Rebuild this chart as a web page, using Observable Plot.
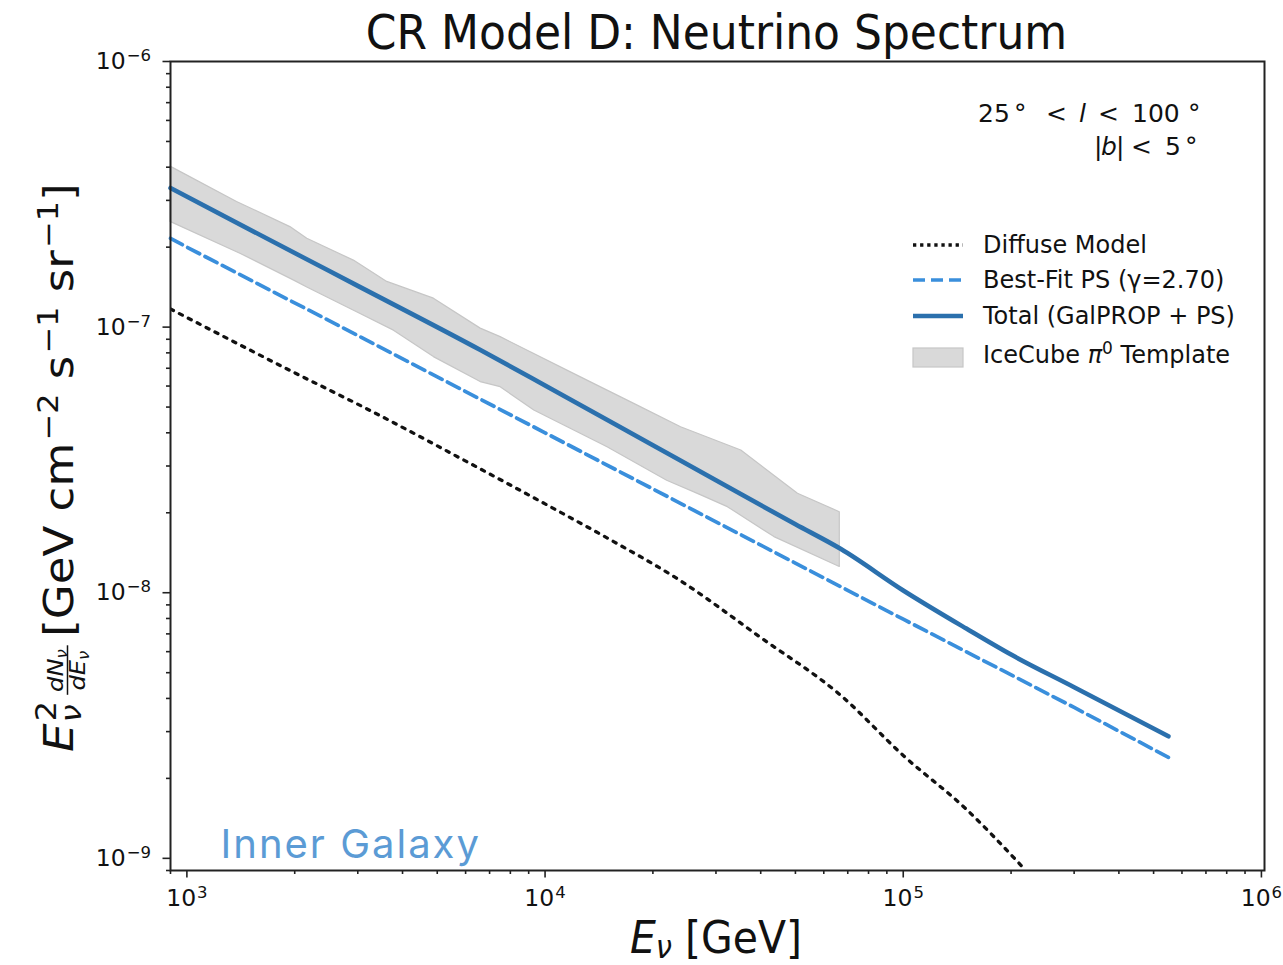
<!DOCTYPE html>
<html><head><meta charset="utf-8">
<script src="https://cdn.jsdelivr.net/npm/d3@7"></script>
<script src="https://cdn.jsdelivr.net/npm/@observablehq/plot@0.6"></script>
<style>body{margin:0;background:#fff;} #chart{width:1283px;height:965px;}</style>
</head><body><div id="chart"></div>
<script>
// ---- data ----
const diffuseE = [900, 2000, 3120, 6610, 10000, 15000, 23500, 40000, 67000, 100000, 150000, 215000];
const diffuseF = [1.17e-7, 6.73e-8, 4.99e-8, 2.92e-8, 2.16e-8, 1.60e-8, 1.125e-8, 6.78e-9, 4.10e-9, 2.44e-9, 1.53e-9, 9.3e-10];

const psE = [900, 1000, 3000, 10000, 30000, 100000, 300000, 550000];
const psF = [2.16e-7, 2.0e-7, 9.3e-8, 4.0e-8, 1.85e-8, 7.95e-9, 3.7e-9, 2.4e-9];

const totalE = [900, 2000, 3000, 6600, 10000, 20000, 30000, 50000, 67000, 100000, 150000, 200000, 300000, 550000];
const totalF = [3.34e-7, 1.90e-7, 1.43e-7, 8.2e-8, 6.03e-8, 3.59e-8, 2.65e-8, 1.81e-8, 1.46e-8, 1.02e-8, 7.33e-9, 5.85e-9, 4.41e-9, 2.88e-9];

const bandUpperE = [900, 1380, 1945, 2168, 2925, 3625, 4893, 6610, 7516, 9120, 12590, 17740, 23970, 35300, 50820, 66500];
const bandUpperF = [4.02e-7, 2.96e-7, 2.38e-7, 2.15e-7, 1.78e-7, 1.48e-7, 1.28e-7, 9.87e-8, 9.17e-8, 8.04e-8, 6.47e-8, 5.14e-8, 4.20e-8, 3.43e-8, 2.36e-8, 2.01e-8];
const bandLowerE = [900, 1410, 1987, 2168, 3054, 3785, 4893, 6610, 7516, 9330, 14940, 21920, 27000, 32380, 43690, 66500];
const bandLowerF = [2.49e-7, 1.89e-7, 1.50e-7, 1.41e-7, 1.12e-7, 9.70e-8, 7.71e-8, 6.21e-8, 5.94e-8, 4.85e-8, 3.53e-8, 2.64e-8, 2.34e-8, 2.10e-8, 1.62e-8, 1.25e-8];

const xMajorTicks = [1e3, 1e4, 1e5, 1e6];
const yMajorTicks = [1e-9, 1e-8, 1e-7, 1e-6];
const xDomain = [900, 1.02e6];
const yDomain = [9e-10, 1e-6];

const seriesNames = ["Diffuse Model", "Best-Fit PS (γ=2.70)", "Total (GalPROP + PS)", "IceCube π0 Template"];

// ---- tables ----
const diffuse = diffuseE.map((e, i) => ({E: e, F: diffuseF[i]}));
const ps = psE.map((e, i) => ({E: e, F: psF[i]}));
const total = totalE.map((e, i) => ({E: e, F: totalF[i]}));
const band = bandUpperE.map((e, i) => ({eU: e, fU: bandUpperF[i], eL: bandLowerE[i], fL: bandLowerF[i]}));

function minorTicks(lo, hi) {
  const out = [];
  for (let p = Math.floor(Math.log10(lo)); p <= Math.ceil(Math.log10(hi)); p++)
    for (let m = 2; m <= 9; m++) { const v = m * Math.pow(10, p); if (v >= lo * 0.999 && v <= hi * 1.001) out.push(v); }
  return out;
}
const expFmt = d => "10^" + String(Math.round(Math.log10(d))).replace("-", "−");

const C_DOT = "#111111", C_DASH = "#3a8fdc", C_SOLID = "#2b70ad", C_BAND = "#d9d9d9", C_BANDEDGE = "#c6c6c6";

const plot = Plot.plot({
  width: 1283, height: 965,
  marginLeft: 170, marginRight: 19, marginTop: 61, marginBottom: 95,
  x: {type: "log", domain: xDomain},
  y: {type: "log", domain: yDomain},
  style: {fontFamily: "DejaVu Sans", background: "#fff", color: "#111"},
  marks: [
    Plot.area(band, {x1: "eU", y1: "fU", x2: "eL", y2: "fL", fill: C_BAND, stroke: C_BANDEDGE, strokeWidth: 1.2}),
    Plot.line(diffuse, {x: "E", y: "F", stroke: C_DOT, strokeWidth: 3.3, strokeDasharray: "3.3,6.7", curve: "monotone-x", clip: true}),
    Plot.line(ps, {x: "E", y: "F", stroke: C_DASH, strokeWidth: 3.7, strokeDasharray: "13.5,6"}),
    Plot.line(total, {x: "E", y: "F", stroke: C_SOLID, strokeWidth: 4.6, curve: "monotone-x"}),
    Plot.axisX({ticks: minorTicks(xDomain[0], xDomain[1]), tickFormat: () => "", tickSize: 4, stroke: "#222", strokeWidth: 1.6, label: null}),
    Plot.axisX({ticks: xMajorTicks, tickFormat: expFmt, tickSize: 7.5, tickPadding: 11, fontSize: 23.5, stroke: "#222", strokeWidth: 1.6, label: null}),
    Plot.axisY({ticks: minorTicks(yDomain[0], yDomain[1]), tickFormat: () => "", tickSize: 4, stroke: "#222", strokeWidth: 1.6, label: null}),
    Plot.axisY({ticks: yMajorTicks, tickFormat: expFmt, tickSize: 7.5, tickPadding: 12, fontSize: 23.5, stroke: "#222", strokeWidth: 1.6, label: null}),
    Plot.text(["Inner Galaxy"], {frameAnchor: "bottom-left", dx: 50, dy: -13, text: d => d, fill: "#5b9bd5", fontSize: 40, fontFamily: "Inter", textAnchor: "start", lineAnchor: "bottom"}),
    Plot.frame({stroke: "#222", strokeWidth: 2})
  ]
});

const NS = "http://www.w3.org/2000/svg";
// superscripts on tick labels
plot.querySelectorAll('g[aria-label$="tick label"] text').forEach(t => {
  const s = t.textContent; const i = s.indexOf("^"); if (i < 0) return;
  t.textContent = "";
  const a = document.createElementNS(NS, "tspan"); a.textContent = s.slice(0, i); t.appendChild(a);
  const b = document.createElementNS(NS, "tspan"); b.textContent = s.slice(i + 1);
  b.setAttribute("font-size", "16.5"); b.setAttribute("dy", "-8"); b.setAttribute("dx", "1"); t.appendChild(b);
});
plot.querySelectorAll('g[aria-label="text"] text').forEach(t => t.setAttribute("letter-spacing", "2"));

const svg = d3.select(plot);
function rich(sel, segs) {
  let off = 0;
  for (const s of segs) {
    const target = s.sup ? -s.sup : s.sub ? s.sub : 0;
    const ts = sel.append("tspan").text(s.t).attr("dy", target - off);
    if (s.size) ts.attr("font-size", s.size);
    if (s.it) ts.attr("font-style", "italic");
    if (s.dx) ts.attr("dx", s.dx);
    if (s.x != null) ts.attr("x", s.x);
    off = target;
  }
}
// title
svg.append("text").attr("transform", "translate(716.5,49) scale(1,1.08)").attr("text-anchor", "middle")
  .attr("font-size", 44).attr("fill", "#111").text("CR Model D: Neutrino Spectrum");
// x label
rich(svg.append("text").attr("transform", "translate(716,953) scale(1,1.08)").attr("text-anchor", "middle").attr("font-size", 41).attr("fill", "#111"),
  [{t: "E", it: true}, {t: "ν", it: true, sub: 5, size: 29}, {t: " [GeV]"}]);
// y label (stretched along its length like the reference)
const gy = svg.append("g").attr("transform", "translate(73,752) rotate(-90) scale(1.1,1)").attr("fill", "#111").attr("text-anchor", "start");
gy.append("text").attr("x", 0).attr("y", 0).attr("font-size", 41).attr("font-style", "italic").text("E");
gy.append("text").attr("x", 27).attr("y", 8).attr("font-size", 29).attr("font-style", "italic").text("ν");
gy.append("text").attr("x", 28).attr("y", -17).attr("font-size", 29).text("2");
rich(gy.append("text").attr("x", 74).attr("y", -10).attr("text-anchor", "middle").attr("font-size", 22),
  [{t: "dN", it: true}, {t: "ν", it: true, sub: 4, size: 15}]);
gy.append("line").attr("x1", 52).attr("x2", 97).attr("y1", -5.5).attr("y2", -5.5).attr("stroke", "#111").attr("stroke-width", 1.5);
rich(gy.append("text").attr("x", 74).attr("y", 12).attr("text-anchor", "middle").attr("font-size", 22),
  [{t: "dE", it: true}, {t: "ν", it: true, sub: 4, size: 15}]);
rich(gy.append("text").attr("x", 517).attr("y", 0).attr("text-anchor", "end").attr("font-size", 41),
  [{t: "[GeV cm"}, {t: "−2", sup: 15, size: 29, dx: 2}, {t: " s"}, {t: "−1", sup: 15, size: 29, dx: 2}, {t: " sr"}, {t: "−1", sup: 15, size: 29, dx: 2}, {t: "]"}]);
// region annotation
rich(svg.append("text").attr("y", 122).attr("text-anchor", "start").attr("font-size", 25).attr("fill", "#111"),
  [{t: "25", x: 978}, {t: "°", x: 1014}, {t: "<", x: 1046}, {t: "l", it: true, x: 1079}, {t: "<", x: 1098}, {t: "100", x: 1132}, {t: "°", x: 1188}]);
rich(svg.append("text").attr("y", 155).attr("text-anchor", "start").attr("font-size", 25).attr("fill", "#111"),
  [{t: "|", x: 1094}, {t: "b", it: true, x: 1101}, {t: "|", x: 1116}, {t: "<", x: 1131}, {t: "5", x: 1165}, {t: "°", x: 1185}]);
// legend
const lg = svg.append("g").attr("font-size", 24).attr("fill", "#111").attr("text-anchor", "start");
const lx1 = 913, lx2 = 963, tx = 983;
lg.append("line").attr("x1", lx1).attr("x2", lx2).attr("y1", 245).attr("y2", 245).attr("stroke", C_DOT).attr("stroke-width", 3.3).attr("stroke-dasharray", "3.3,3.8");
lg.append("line").attr("x1", lx1).attr("x2", lx2).attr("y1", 280).attr("y2", 280).attr("stroke", C_DASH).attr("stroke-width", 3.7).attr("stroke-dasharray", "12,6");
lg.append("line").attr("x1", lx1).attr("x2", lx2).attr("y1", 316).attr("y2", 316).attr("stroke", C_SOLID).attr("stroke-width", 4.6);
lg.append("rect").attr("x", lx1).attr("y", 348).attr("width", 50).attr("height", 19).attr("fill", C_BAND).attr("stroke", C_BANDEDGE).attr("stroke-width", 1.2);
lg.append("text").attr("x", tx).attr("y", 253).text(seriesNames[0]);
lg.append("text").attr("x", tx).attr("y", 288).text(seriesNames[1]);
lg.append("text").attr("x", tx).attr("y", 324).text(seriesNames[2]);
rich(lg.append("text").attr("x", tx).attr("y", 363),
  [{t: "IceCube "}, {t: "π", it: true}, {t: "0", sup: 9, size: 17}, {t: " Template"}]);

document.getElementById("chart").append(plot);
</script>
</body></html>
